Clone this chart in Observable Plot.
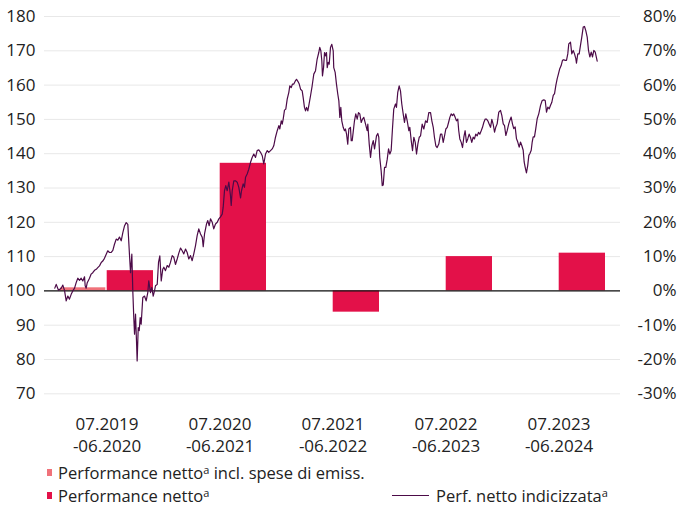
<!DOCTYPE html>
<html><head><meta charset="utf-8">
<script src="https://cdn.jsdelivr.net/npm/d3@7"></script>
<script src="https://cdn.jsdelivr.net/npm/@observablehq/plot@0.6"></script>
<style>
body{margin:0;background:#fff;font-family:"Open Sans",sans-serif;color:#222}
#chart{position:relative;width:679px;height:455px}
#chart svg{position:absolute;left:0;top:0}
.legend{position:relative;width:679px;height:55px;font-size:16.5px;line-height:23px}
.legend .t{position:absolute;white-space:nowrap;height:23px}
.legend .sq{position:absolute;width:5px;height:7px}
.legend .ln{position:absolute;height:1.3px;width:37px}
.sup{font-size:11px;vertical-align:5px;line-height:0}
</style></head><body>
<div id="chart"></div>
<div class="legend" id="legend"></div>
<script>
const periods = ["07.2019-06.2020","07.2020-06.2021","07.2021-06.2022","07.2022-06.2023","07.2023-06.2024"];
const periodLabels = ["07.2019\n-06.2020","07.2020\n-06.2021","07.2021\n-06.2022","07.2022\n-06.2023","07.2023\n-06.2024"];
const perfInclFees = [0.9, null, null, null, null];
const perfNet = [5.9, 37.2, -6.2, 10.0, 11.0];
const leftTicks = [70,80,90,100,110,120,130,140,150,160,170,180];
const rightTicks = [-30,-20,-10,0,10,20,30,40,50,60,70,80];
const legendLabels = ["Performance netto", "incl. spese di emiss.", "Perf. netto indicizzata"];

const indexTime = [
2019.500,2019.513,2019.534,2019.559,2019.574,2019.589,2019.605,2019.620,2019.635,2019.651,2019.666,2019.682,2019.697,2019.712,2019.728,2019.743,2019.758,2019.774,2019.780,2019.789,2019.799,2019.820,2019.835,2019.850,2019.866,2019.882,2019.896,2019.912,2019.928,2019.942,2019.958,2019.974,2019.988,
2020.004,2020.020,2020.035,2020.050,2020.066,2020.081,2020.096,2020.112,2020.127,2020.142,2020.158,2020.173,2020.188,2020.198,2020.210,2020.219,2020.228,2020.235,2020.244,2020.253,2020.259,2020.269,2020.278,2020.287,2020.296,2020.311,2020.327,2020.342,2020.357,2020.366,2020.382,2020.394,2020.407,2020.419,2020.428,2020.444,2020.456,2020.468,2020.481,2020.495,
2020.505,2020.520,2020.536,2020.551,2020.566,2020.582,2020.597,2020.612,2020.628,2020.643,2020.659,2020.674,2020.689,2020.705,2020.720,2020.735,2020.751,2020.766,2020.781,2020.797,2020.812,2020.827,2020.843,2020.859,2020.868,2020.880,2020.898,2020.910,2020.923,2020.935,2020.951,2020.965,2020.981,2020.997,
2021.012,2021.027,2021.043,2021.052,2021.064,2021.076,2021.089,2021.104,2021.119,2021.126,2021.135,2021.150,2021.165,2021.181,2021.196,2021.212,2021.221,2021.236,2021.248,2021.258,2021.273,2021.288,2021.304,2021.319,2021.334,2021.350,2021.365,2021.380,2021.396,2021.412,2021.426,2021.442,2021.458,2021.472,2021.488,
2021.504,2021.518,2021.534,2021.550,2021.565,2021.574,2021.587,2021.596,2021.605,2021.617,2021.629,2021.642,2021.657,2021.666,2021.679,2021.691,2021.703,2021.718,2021.728,2021.740,2021.753,2021.765,2021.780,2021.789,2021.801,2021.811,2021.820,2021.832,2021.841,2021.857,2021.872,2021.887,2021.903,2021.918,2021.933,2021.942,2021.952,2021.961,2021.967,2021.977,2021.986,2021.995,
2022.004,2022.011,2022.020,2022.029,2022.041,2022.053,2022.066,2022.071,2022.084,2022.096,2022.108,2022.118,2022.127,2022.136,2022.145,2022.158,2022.170,2022.179,2022.189,2022.200,2022.210,2022.225,2022.232,2022.241,2022.250,2022.262,2022.274,2022.287,2022.299,2022.311,2022.324,2022.336,2022.348,2022.364,2022.379,2022.385,2022.398,2022.410,2022.422,2022.435,2022.447,
2022.465,2022.477,2022.486,2022.495,2022.508,2022.518,2022.527,2022.539,2022.551,2022.564,2022.576,2022.588,2022.600,2022.612,2022.624,2022.640,2022.649,2022.661,2022.674,2022.686,2022.698,2022.711,2022.723,2022.735,2022.748,2022.763,2022.772,2022.785,2022.797,2022.809,2022.822,2022.834,2022.846,2022.859,2022.871,2022.886,2022.901,2022.917,2022.932,2022.947,2022.963,2022.975,2022.988,2022.999,
2023.012,2023.024,2023.039,2023.055,2023.067,2023.080,2023.092,2023.104,2023.117,2023.129,2023.141,2023.153,2023.165,2023.177,2023.190,2023.202,2023.214,2023.223,2023.233,2023.246,2023.258,2023.270,2023.282,2023.294,2023.306,2023.319,2023.331,2023.343,2023.356,2023.368,2023.380,2023.393,2023.405,2023.417,2023.430,2023.442,2023.454,2023.467,2023.479,2023.491,2023.504,2023.516,
2023.528,2023.541,2023.553,2023.565,2023.577,2023.592,2023.608,2023.620,2023.633,2023.645,2023.657,2023.670,2023.684,2023.694,2023.706,2023.718,2023.730,2023.743,2023.755,2023.767,2023.780,2023.792,2023.804,2023.817,2023.826,2023.835,2023.847,2023.859,2023.869,2023.878,2023.891,2023.900,2023.909,2023.921,2023.933,2023.946,2023.961,2023.977,2023.992,
2024.007,2024.020,2024.032,2024.044,2024.057,2024.069,2024.081,2024.094,2024.106,2024.118,2024.130,2024.142,2024.154,2024.167,2024.179,2024.191,2024.204,2024.216,2024.228,2024.237,2024.253,2024.265,2024.278,2024.290,2024.302,2024.308,2024.320,2024.333,2024.345,2024.357,2024.370,2024.382,2024.394,2024.407,2024.419,2024.431,2024.444,2024.456,2024.468,2024.481,2024.499
];
const indexValue = [
100.8,101.9,100.2,100.8,101.7,100.2,97.1,98.5,97.6,99.0,100.0,100.8,102.4,103.7,103.1,103.7,102.9,104.1,101.5,100.8,102.4,103.7,104.9,105.3,106.0,106.3,106.8,107.3,108.3,108.7,109.5,110.7,111.7,
111.2,111.2,111.8,113.6,115.1,114.8,115.7,114.6,117.0,118.9,119.9,119.4,110.7,105.3,110.7,100.0,92.2,87.4,93.2,85.4,79.6,89.3,88.4,92.2,90.3,98.1,98.5,97.1,99.5,102.9,99.5,101.0,98.5,100.0,101.5,101.9,108.3,110.2,102.9,106.3,
106.9,105.9,107.4,106.9,108.3,110.3,109.8,107.7,109.3,111.0,112.5,111.7,110.8,112.2,111.2,109.3,110.3,108.8,110.8,113.2,116.1,118.1,116.6,115.6,112.9,116.6,119.5,120.5,119.0,121.0,120.0,118.1,119.5,120.0,
121.0,121.6,122.4,124.4,129.2,130.7,129.2,131.7,127.8,124.9,129.2,132.1,132.1,131.7,130.2,127.1,129.2,131.2,130.2,133.1,134.1,135.5,137.5,138.9,139.9,138.9,140.9,141.1,140.4,139.4,137.0,139.9,140.9,140.4,140.9,
141.4,142.3,144.8,146.7,148.2,147.2,149.6,148.6,150.1,152.7,153.0,155.9,157.9,159.8,159.3,160.3,160.3,161.3,161.7,161.1,160.3,158.8,158.3,156.4,153.5,152.5,153.5,152.5,154.0,156.9,159.8,163.2,164.2,167.6,169.5,171.0,170.0,167.1,162.7,165.1,169.5,168.5,
169.5,165.1,166.6,166.1,171.0,171.9,170.0,165.1,163.7,160.3,157.4,155.4,150.6,153.5,149.6,147.7,146.7,147.2,145.7,142.8,147.2,147.7,143.8,143.8,146.3,149.6,151.6,150.1,152.0,151.6,149.1,150.1,150.6,148.6,146.7,148.6,142.8,138.9,142.3,143.8,141.4,
145.2,145.9,144.8,138.9,135.0,130.7,130.9,136.0,136.0,138.4,141.4,139.9,140.9,147.2,153.0,154.5,153.5,157.9,159.8,158.3,154.5,151.6,149.1,151.6,149.6,146.7,147.7,143.8,140.9,144.8,143.3,139.9,142.8,144.8,145.2,148.6,147.2,149.6,149.1,152.0,152.0,149.6,147.7,144.8,
142.3,141.8,142.8,145.7,145.7,143.3,145.2,147.2,147.7,149.1,150.6,151.6,151.1,151.6,150.6,149.6,150.1,146.7,144.3,143.3,141.8,144.8,146.7,143.3,144.3,145.7,144.8,143.3,144.8,144.3,145.7,145.2,146.2,145.7,146.7,147.7,149.1,150.1,150.1,149.6,148.6,147.7,
150.0,148.5,146.3,147.8,148.7,152.1,152.6,151.2,148.7,148.2,145.3,146.8,148.7,149.7,150.7,148.7,147.3,147.8,144.4,143.4,141.9,143.4,142.4,141.0,137.6,136.1,134.4,136.6,139.5,140.0,141.0,143.4,144.9,144.9,147.3,150.2,151.7,154.1,155.5,
155.7,155.5,152.1,153.6,153.1,154.1,155.0,157.0,157.5,159.9,161.8,163.3,164.8,165.7,167.2,167.4,167.2,167.2,169.1,172.0,172.5,169.1,170.1,169.1,167.7,166.4,169.1,169.1,171.6,174.0,176.9,177.1,175.9,174.0,170.1,168.2,169.6,168.2,170.1,169.6,167.0
];

const PINK = "#f0727a", RED = "#e31149", PURPLE = "#4c0b48", GRID = "#e8e8e8";
const W = 679, H = 455, MT = 16, MB = 61.7;

const bars = periods.map((p, i) => ({period: p, label: periodLabels[i], inclFees: perfInclFees[i], net: perfNet[i]}));
const series = indexTime.map((t, i) => ({t, v: indexValue[i]}));

const p1 = Plot.plot({
  width: W, height: H, marginTop: MT, marginBottom: MB, marginLeft: 44, marginRight: 59,
  x: {domain: periods, range: [40.5, 625.5], padding: 0.174, axis: null},
  y: {domain: [70, 180], axis: null},
  style: {fontFamily: "'Open Sans', sans-serif", fontSize: "17px", color: "#222", background: "white", overflow: "visible"},
  marks: [
    Plot.gridY(leftTicks, {stroke: GRID, strokeOpacity: 1, strokeWidth: 1}),
    Plot.barY(bars.filter(d => d.inclFees != null), {x: "period", y1: 100, y2: d => 100 + d.inclFees, fill: PINK, insetRight: 47.7}),
    Plot.barY(bars, {x: "period", y1: 100, y2: d => 100 + d.net, fill: RED, insetLeft: 46.7}),
    Plot.ruleY([100], {stroke: "#111", strokeWidth: 1.3}),
    Plot.axisY(leftTicks, {anchor: "left", tickSize: 0, tickPadding: 9, fontSize: 17, fill: "#222"}),
    Plot.text(rightTicks, {y: d => 100 + d, text: d => `${d}%`, frameAnchor: "right", textAnchor: "end", dx: 56, fontSize: 17, fill: "#222"}),
    Plot.text(bars, {x: "period", text: "label", frameAnchor: "bottom", lineAnchor: "top", dy: 20, lineHeight: 1.3, fontSize: 17, fill: "#222"})
  ]
});

const p2 = Plot.plot({
  width: W, height: H, marginTop: MT, marginBottom: MB, marginLeft: 0, marginRight: 0,
  x: {domain: [2019.5, 2024.5], range: [54.3, 596.8], axis: null},
  y: {domain: [70, 180], axis: null},
  style: {background: "transparent"},
  marks: [
    Plot.line(series, {x: "t", y: "v", stroke: PURPLE, strokeWidth: 1.2, curve: "linear"})
  ]
});

const chart = document.getElementById("chart");
chart.appendChild(p1);
chart.appendChild(p2);

const sup = '<span class="sup">a</span>';
document.getElementById("legend").innerHTML = `
  <div class="sq" style="left:47px;top:14px;background:${PINK}"></div>
  <div class="t" style="left:58px;top:6px">${legendLabels[0]}${sup} ${legendLabels[1]}</div>
  <div class="sq" style="left:47px;top:37px;background:${RED}"></div>
  <div class="t" style="left:58px;top:29px">${legendLabels[0]}${sup}</div>
  <div class="ln" style="left:392px;top:40px;background:${PURPLE}"></div>
  <div class="t" style="left:436px;top:29px">${legendLabels[2]}${sup}</div>
`;
</script>
</body></html>
